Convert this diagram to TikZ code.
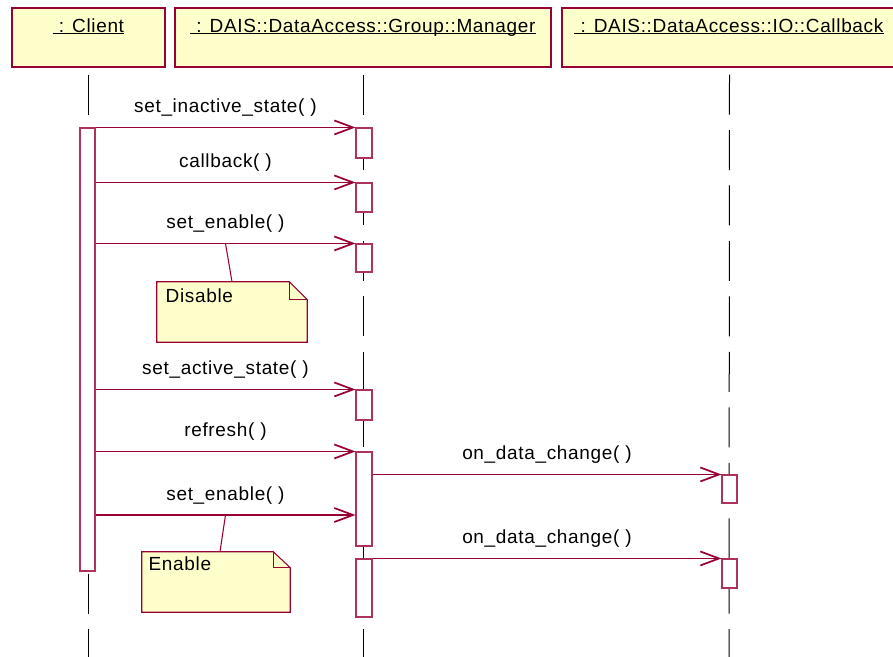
\documentclass[tikz,border=0pt]{standalone}
\usepackage{fontspec}
\setmainfont{Liberation Sans}[LetterSpace=3.5]
\usetikzlibrary{arrows.meta,calc,fit}

\definecolor{umlred}{RGB}{153,0,51}
\definecolor{notefill}{RGB}{255,255,204}

\tikzset{
  headbox/.style={draw=umlred, fill=notefill, inner sep=0pt, line width=0.8pt},
  headtext/.style={font=\fontsize{14.25pt}{17pt}\selectfont, inner sep=0pt, anchor=base},
  lifeline/.style={line width=0.75pt, dash pattern=on 30pt off 11.6pt},
  actbox/.style={draw=umlred!80, fill=white, inner sep=0pt, line width=0.8pt},
  msg/.style={draw=umlred, line width=0.8pt, -{Straight Barb[length=14pt,width=10.5pt,line width=1.3pt]}},
  msglabel/.style={font=\fontsize{14.25pt}{17pt}\selectfont, inner sep=0pt, anchor=base, yshift=11pt},
  notebox/.style={inner sep=0pt},
  noteline/.style={draw=umlred, fill=notefill, line width=0.8pt},
  notetext/.style={font=\fontsize{14.25pt}{17pt}\selectfont, inner sep=0pt, anchor=base west},
}

\begin{document}
\begin{tikzpicture}[x=0.75pt, y=-0.75pt]
  \useasboundingbox (0,0) rectangle (893,657);

  %%%%% objects %%%%%
  \node[headbox, fit={(12,8) (165,67)}] (client) {};
  \node[headbox, fit={(175,8) (551,67)}] (manager) {};
  \node[headbox, fit={(562,8) (897,67)}] (callback) {};

  \node[headtext] (clientname) at (88.5,32) {\ : Client};
  \node[headtext] (managername) at (363,32) {\ : DAIS::DataAccess::Group::Manager};
  \node[headtext] (callbackname) at (729,32) {\ : DAIS::DataAccess::IO::Callback};
  \foreach \n in {clientname,managername,callbackname}
    \draw[line width=0.8pt] ([yshift=-1pt]\n.base west) -- ([yshift=-1pt]\n.base east);

  %%%%% lifelines %%%%%
  \coordinate (clientend) at (88.5,657);
  \coordinate (managerend) at (363,657);
  \coordinate (callbackend) at (729,657);
  \draw[lifeline] ($(client.south)+(0,7)$) -- (clientend);
  \draw[lifeline] ($(manager.south)+(0,7)$) -- (managerend);
  \draw[lifeline] ($(callback.south)+(0,7)$) -- (callbackend);

  %%%%% activations %%%%%
  \node[actbox, fit={(80,128) (95,571)}] (clientact) {};
  \node[actbox, fit={(356,128) (372,158)}] (m1) {};
  \node[actbox, fit={(356,183) (372,212)}] (m2) {};
  \node[actbox, fit={(356,244) (372,272)}] (m3) {};
  \node[actbox, fit={(356,390) (372,420)}] (m4) {};
  \node[actbox, fit={(356,452) (372,546)}] (m5) {};
  \node[actbox, fit={(356,559) (372,617)}] (m6) {};
  \node[actbox, fit={(722,475) (737,503)}] (cb1) {};
  \node[actbox, fit={(722,559) (737,588)}] (cb2) {};

  %%%%% messages %%%%%
  \draw[msg] (clientact.east |- m1.north west) -- node[msglabel] (l1) {set\_inactive\_state( )} (m1.north west);
  \draw[msg] (clientact.east |- m2.north west) -- node[msglabel] (l2) {callback( )} (m2.north west);
  \draw[msg] (clientact.east |- m3.north west) -- node[msglabel] (l3) {set\_enable( )} coordinate[pos=0.5] (s3) (m3.north west);
  \draw[msg] (clientact.east |- m4.north west) -- node[msglabel] (l4) {set\_active\_state( )} (m4.north west);
  \draw[msg] (clientact.east |- m5.north west) -- node[msglabel] (l5) {refresh( )} (m5.north west);
  \draw[msg] (clientact.east |- 0,515) -- node[msglabel] (l6) {set\_enable( )} coordinate[pos=0.5] (s6) (m5.west |- 0,515);
  \draw[msg] (m5.east |- cb1.north west) -- node[msglabel] (l7) {on\_data\_change( )} (cb1.north west);
  \draw[msg] (m6.north east) -- node[msglabel] (l8) {on\_data\_change( )} (cb2.north west);

  %%%%% notes %%%%%
  \node[notebox, fit={(157,282) (307,342)}] (disable) {};
  \draw[noteline] (disable.north west) -- ([xshift=-13.5pt]disable.north east) -- ([yshift=-13.5pt]disable.north east) -- (disable.south east) -- (disable.south west) -- cycle;
  \draw[noteline, fill=none] ([xshift=-13.5pt]disable.north east) |- ([yshift=-13.5pt]disable.north east);
  \node[notetext] (disabletext) at ([xshift=6.5pt, yshift=-15.75pt]disable.north west) {Disable};
  \draw[umlred, line width=0.8pt] (s3) -- (disable.north);

  \node[notebox, fit={(142,552) (290,612)}] (enable) {};
  \draw[noteline] (enable.north west) -- ([xshift=-12.75pt]enable.north east) -- ([yshift=-12pt]enable.north east) -- (enable.south east) -- (enable.south west) -- cycle;
  \draw[noteline, fill=none] ([xshift=-12.75pt]enable.north east) |- ([yshift=-12pt]enable.north east);
  \node[notetext] (enabletext) at ([xshift=5pt, yshift=-14.25pt]enable.north west) {Enable};
  \draw[umlred, line width=0.8pt] (s6) -- ([xshift=3pt]enable.north);
\end{tikzpicture}
\end{document}
